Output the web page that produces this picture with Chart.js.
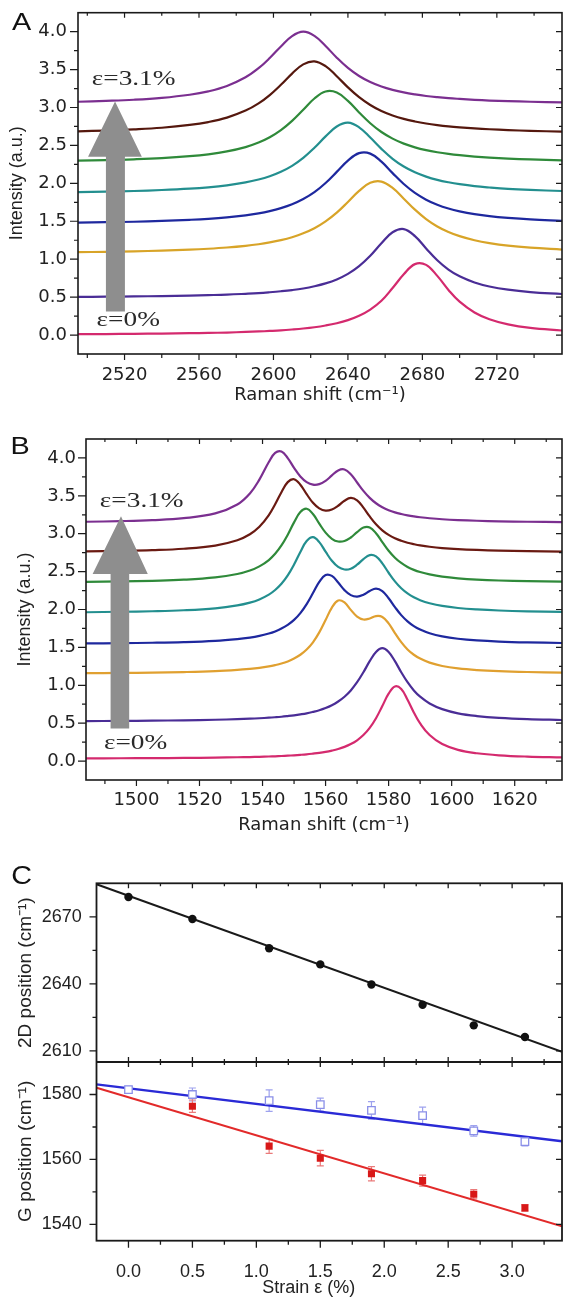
<!DOCTYPE html>
<html>
<head>
<meta charset="utf-8">
<title>Raman spectra of strained graphene</title>
<script src="https://cdn.jsdelivr.net/npm/chart.js@4.4.1/dist/chart.umd.min.js"></script>
<style>
  html, body { margin:0; padding:0; background:#ffffff; }
  #page { position:relative; width:563px; height:1297px; overflow:hidden; background:#ffffff; }
  #page canvas { position:absolute; left:0; }
</style>
</head>
<body>
<div id="page">
  <canvas id="chartA" width="563" height="412" style="top:0px;width:563px;height:412px"></canvas>
  <canvas id="chartB" width="563" height="428" style="top:412px;width:563px;height:428px"></canvas>
  <canvas id="chartC" width="563" height="457" style="top:840px;width:563px;height:457px"></canvas>
</div>
<script>
// ================= DATA =================
// strain levels (%)
const strain = [0, 0.5, 1.1, 1.5, 1.9, 2.3, 2.7, 3.1];

// ---- Panel A : 2D band, fitted spectra (offset intensities) ----
const aShift = [2495,2510,2525,2540,2555,2565,2575,2585,2592,2598,2604,2610,2616,2622,2628,2634,2640,2646,2652,2658,2664,2670,2676,2682,2688,2694,2700,2708,2716,2726,2738,2755];
const aFit00 = [0.011,0.013,0.016,0.019,0.024,0.028,0.033,0.041,0.047,0.054,0.062,0.073,0.086,0.103,0.126,0.156,0.197,0.254,0.336,0.451,0.620,0.800,0.935,0.925,0.780,0.595,0.440,0.298,0.209,0.141,0.095,0.060];
const aFit05 = [0.503,0.506,0.509,0.514,0.520,0.526,0.533,0.544,0.553,0.564,0.577,0.593,0.614,0.643,0.681,0.733,0.806,0.908,1.045,1.210,1.355,1.397,1.304,1.142,0.986,0.863,0.774,0.693,0.640,0.598,0.567,0.541];
const aFit11 = [1.093,1.097,1.104,1.113,1.126,1.138,1.154,1.176,1.197,1.221,1.251,1.290,1.341,1.408,1.498,1.613,1.754,1.900,2.007,2.023,1.939,1.798,1.653,1.529,1.432,1.359,1.304,1.250,1.212,1.178,1.152,1.127];
const aFit15 = [1.483,1.488,1.494,1.504,1.519,1.532,1.551,1.578,1.604,1.634,1.673,1.724,1.793,1.884,2.005,2.151,2.300,2.398,2.392,2.286,2.135,1.991,1.874,1.785,1.718,1.668,1.631,1.594,1.567,1.544,1.524,1.506];
const aFit19 = [1.885,1.891,1.899,1.912,1.930,1.948,1.974,2.012,2.050,2.094,2.153,2.231,2.336,2.469,2.619,2.750,2.800,2.739,2.604,2.455,2.324,2.222,2.146,2.089,2.046,2.014,1.989,1.963,1.945,1.927,1.913,1.899];
const aFit23 = [2.299,2.306,2.317,2.333,2.358,2.383,2.421,2.478,2.538,2.608,2.702,2.824,2.971,3.119,3.211,3.198,3.087,2.935,2.793,2.677,2.590,2.524,2.475,2.438,2.410,2.388,2.371,2.353,2.339,2.326,2.315,2.304];
const aFit27 = [2.686,2.696,2.711,2.733,2.770,2.808,2.867,2.959,3.054,3.164,3.299,3.447,3.569,3.609,3.546,3.413,3.266,3.136,3.033,2.954,2.895,2.850,2.816,2.789,2.768,2.751,2.738,2.724,2.713,2.702,2.692,2.682];
const aFit31 = [3.076,3.087,3.102,3.127,3.168,3.213,3.284,3.398,3.518,3.652,3.805,3.942,4.000,3.945,3.811,3.657,3.522,3.416,3.336,3.277,3.233,3.199,3.173,3.152,3.136,3.123,3.113,3.101,3.092,3.084,3.076,3.068];
const aXTicks = [2520, 2560, 2600, 2640, 2680, 2720];
const aXMinor = [2500, 2540, 2580, 2620, 2660, 2700, 2740];
const abYTicks = [0, 0.5, 1, 1.5, 2, 2.5, 3, 3.5, 4];
const abYMinor = [0.25, 0.75, 1.25, 1.75, 2.25, 2.75, 3.25, 3.75];

// ---- Panel B : G band, fitted spectra ----
const bShift = [1484,1495,1505,1515,1525,1532,1536,1539,1542,1544,1546,1548,1550,1552,1554,1556,1558,1560,1562,1564,1566,1568,1570,1572,1574,1576,1578,1580,1582,1584,1586,1588,1590,1593,1597,1602,1608,1615,1624,1635];
const bFit00 = [0.035,0.037,0.038,0.041,0.045,0.050,0.053,0.056,0.060,0.063,0.067,0.071,0.076,0.082,0.089,0.098,0.108,0.121,0.138,0.159,0.187,0.224,0.274,0.343,0.437,0.565,0.726,0.889,0.985,0.951,0.810,0.642,0.497,0.343,0.224,0.148,0.103,0.076,0.059,0.048];
const bFit05 = [0.528,0.530,0.533,0.538,0.545,0.553,0.559,0.565,0.572,0.578,0.585,0.594,0.604,0.616,0.630,0.649,0.671,0.700,0.737,0.786,0.849,0.932,1.040,1.172,1.318,1.440,1.490,1.440,1.318,1.172,1.040,0.932,0.849,0.760,0.685,0.630,0.594,0.570,0.553,0.542];
const bFit11 = [1.160,1.163,1.167,1.174,1.186,1.202,1.216,1.230,1.249,1.266,1.287,1.315,1.353,1.403,1.472,1.567,1.698,1.861,2.025,2.119,2.093,1.995,1.906,1.868,1.881,1.913,1.902,1.816,1.689,1.569,1.473,1.403,1.352,1.299,1.255,1.223,1.201,1.186,1.175,1.167];
const bFit15 = [1.552,1.556,1.561,1.570,1.587,1.610,1.630,1.652,1.683,1.711,1.748,1.797,1.863,1.953,2.072,2.217,2.364,2.455,2.443,2.355,2.256,2.190,2.170,2.195,2.245,2.276,2.244,2.149,2.032,1.926,1.844,1.781,1.735,1.686,1.645,1.614,1.592,1.577,1.566,1.558];
const bFit19 = [1.964,1.970,1.977,1.990,2.016,2.054,2.091,2.133,2.196,2.257,2.339,2.450,2.594,2.760,2.903,2.954,2.889,2.763,2.643,2.562,2.528,2.539,2.591,2.664,2.718,2.701,2.608,2.485,2.371,2.280,2.212,2.161,2.123,2.083,2.047,2.020,2.001,1.987,1.976,1.968];
const bFit23 = [2.365,2.370,2.379,2.393,2.423,2.468,2.514,2.569,2.653,2.735,2.845,2.987,3.150,3.286,3.330,3.260,3.133,3.014,2.933,2.897,2.904,2.950,3.021,3.082,3.083,3.006,2.890,2.776,2.684,2.614,2.562,2.523,2.494,2.463,2.434,2.412,2.395,2.383,2.374,2.367];
const bFit27 = [2.766,2.773,2.783,2.802,2.844,2.914,2.993,3.091,3.246,3.388,3.548,3.681,3.719,3.647,3.522,3.408,3.334,3.304,3.319,3.369,3.435,3.472,3.440,3.344,3.228,3.125,3.045,2.985,2.940,2.907,2.881,2.862,2.846,2.828,2.811,2.797,2.786,2.777,2.770,2.764];
const bFit31 = [3.158,3.166,3.179,3.205,3.268,3.386,3.532,3.714,3.946,4.066,4.084,3.997,3.869,3.755,3.681,3.647,3.654,3.698,3.769,3.835,3.848,3.785,3.676,3.565,3.473,3.402,3.350,3.311,3.282,3.260,3.242,3.228,3.217,3.204,3.191,3.180,3.171,3.164,3.158,3.153];
const bXTicks = [1500, 1520, 1540, 1560, 1580, 1600, 1620];
const bXMinor = [1490, 1510, 1530, 1550, 1570, 1590, 1610, 1630];

// ---- Panel C : peak positions vs strain ----
const pos2D     = [2678.9, 2669.0, 2655.9, 2648.7, 2639.7, 2630.6, 2621.4, 2616.2];
const posGplus  = [1581.5, 1580.0, 1578.1, 1576.9, 1575.1, 1573.5, 1568.8, 1565.5];
const errGplus  = [1.0, 2.0, 3.3, 2.0, 2.7, 2.6, 1.6, 1.3];
const posGminus = [null, 1576.4, 1564.1, 1560.4, 1555.6, 1553.5, 1549.3, 1545.1];
const errGminus = [0, 1.9, 2.2, 2.4, 2.2, 1.7, 1.4, 1.0];
const fitStrain = [-0.25, 3.39];
const fit2D     = [2684.6, 2609.6];
const fitGplus  = [1583.1, 1565.6];
const fitGminus = [1582.1, 1539.4];
const cXTicks = [0, 0.5, 1, 1.5, 2, 2.5, 3];
const cXMinor = [0.25, 0.75, 1.25, 1.75, 2.25, 2.75, 3.25];
const c2DTicks = [2610, 2640, 2670];
const c2DMinor = [2625, 2655];
const cGTicks = [1540, 1560, 1580];
const cGMinor = [1550, 1570];

// ================= STYLE =================
const aColors = ['#d42a6e', '#4a2d96', '#d8a428', '#1e289e', '#238f8f', '#2f8a3a', '#55180e', '#7b2f90'];
const bColors = ['#d42a6e', '#4a2d96', '#e0a030', '#1e289e', '#238f8f', '#2f8a3a', '#6a1a12', '#7b2f90'];
const ink = '#1a1a1a';
const noGrid = { display: false, drawTicks: false, drawOnChartArea: false };
// keep the plot frames exactly where the layout padding puts them
const fixY = w => s => { s.width = w; s.paddingTop = 0; s.paddingBottom = 0; };
const fixX = h => s => { s.height = h; s.paddingLeft = 0; s.paddingRight = 0; };

// ================= HELPERS =================
function drawStretched(ctx, text, x, y, font, color, sx, align) {
  ctx.save();
  ctx.font = font; ctx.fillStyle = color; ctx.textBaseline = 'middle'; ctx.textAlign = align;
  ctx.translate(x, y); ctx.scale(sx, 1);
  ctx.fillText(text, 0, 0);
  ctx.restore();
}

function makeFrame(spec) {
  return {
    id: 'frameTicks',
    afterDraw(chart) {
      const {ctx, chartArea: ca} = chart;
      const xs = chart.scales.x;
      ctx.save();
      ctx.strokeStyle = ink;
      ctx.lineWidth = spec.lw;
      ctx.strokeRect(ca.left, ca.top, ca.right - ca.left, ca.bottom - ca.top);
      ctx.lineWidth = spec.tw;
      ctx.beginPath();
      const vt = (vals, y, up, down) => vals.forEach(v => {
        const p = xs.getPixelForValue(v); ctx.moveTo(p, y - up); ctx.lineTo(p, y + down);
      });
      vt(spec.xMajor, ca.bottom, 0, spec.bMaj); vt(spec.xMinor, ca.bottom, 0, spec.bMin);
      vt(spec.xMajor, ca.top, 0, spec.tMaj);    vt(spec.xMinor, ca.top, 0, spec.tMin);
      spec.yAxes.forEach(ax => {
        const ys = chart.scales[ax.id];
        const ht = (vals, x, l, r) => vals.forEach(v => {
          const p = ys.getPixelForValue(v); ctx.moveTo(x - l, p); ctx.lineTo(x + r, p);
        });
        ht(ax.major, ca.left, spec.lMaj, 0);  ht(ax.minor, ca.left, spec.lMin, 0);
        ht(ax.major, ca.right, spec.rMaj, 0); ht(ax.minor, ca.right, spec.rMin, 0);
        if (ax.midline) {
          vt(spec.xMajor, ys.bottom, spec.mMaj, spec.mMaj);
          vt(spec.xMinor, ys.bottom, spec.mMin, spec.mMin);
        }
      });
      ctx.stroke();
      spec.yAxes.forEach(ax => {
        if (ax.midline) {
          const ys = chart.scales[ax.id];
          ctx.lineWidth = spec.lw; ctx.beginPath();
          ctx.moveTo(ca.left, ys.bottom); ctx.lineTo(ca.right, ys.bottom); ctx.stroke();
        }
      });
      ctx.restore();
    }
  };
}

function makeNotes(n) {
  return {
    id: 'notes',
    afterDatasetsDraw(chart) {
      const {ctx} = chart;
      const X = v => chart.scales.x.getPixelForValue(v);
      const Y = v => chart.scales.y.getPixelForValue(v);
      const a = n.arrow;
      ctx.save();
      ctx.fillStyle = '#8e8e8e';
      ctx.beginPath();
      ctx.moveTo(X(a.tipX), Y(a.tipY));
      ctx.lineTo(X(a.headRight), Y(a.headY));
      ctx.lineTo(X(a.shaftRight), Y(a.headY));
      ctx.lineTo(X(a.shaftRight), Y(a.tailY));
      ctx.lineTo(X(a.shaftLeft), Y(a.tailY));
      ctx.lineTo(X(a.shaftLeft), Y(a.headY));
      ctx.lineTo(X(a.headLeft), Y(a.headY));
      ctx.closePath();
      ctx.fill();
      ctx.restore();
      n.labels.forEach(t => drawStretched(ctx, t.text, X(t.x), Y(t.y), "21px 'Liberation Serif'", '#2a2a2a', 1.3, 'left'));
    },
    afterDraw(chart) {
      drawStretched(chart.ctx, n.panel.text, n.panel.px, n.panel.py, "24px 'Liberation Sans'", '#111111', 1.2, 'center');
    }
  };
}

function spectrumChart(id, xs, fits, colors, g) {
  return new Chart(document.getElementById(id), {
    type: 'line',
    data: {
      datasets: fits.map((f, i) => ({
        label: 'ε=' + strain[i] + '%',
        data: xs.map((x, j) => ({x: x, y: f[j]})),
        borderColor: colors[i],
        borderWidth: 2.2,
        pointRadius: 0,
        fill: false,
        tension: 0.4
      }))
    },
    options: {
      responsive: false, animation: false, devicePixelRatio: 1,
      layout: { autoPadding: false, padding: { top: g.top, right: 1, bottom: 0, left: 0 } },
      plugins: { legend: { display: false }, tooltip: { enabled: false } },
      scales: {
        x: {
          type: 'linear', position: 'bottom', min: g.xMin, max: g.xMax,
          grid: noGrid, border: { display: false },
          afterBuildTicks: s => { s.ticks = g.xTicks.map(v => ({value: v})); },
          afterFit: fixX(g.xHeight),
          ticks: { padding: g.xPad, autoSkip: false, maxRotation: 0, color: '#222222',
                   font: { family: 'DejaVu Sans', size: 18 }, callback: v => String(v) },
          title: { display: true, text: 'Raman shift (cm⁻¹)', color: '#222222',
                   font: { family: 'DejaVu Sans', size: 18 }, padding: { top: 0, bottom: g.xTitlePad } }
        },
        y: {
          type: 'linear', position: 'left', min: -0.25, max: 4.25,
          grid: noGrid, border: { display: false },
          afterBuildTicks: s => { s.ticks = abYTicks.map(v => ({value: v})); },
          afterFit: fixY(g.yWidth),
          ticks: { padding: g.yPad, color: '#222222', font: { family: 'DejaVu Sans', size: 18 },
                   callback: v => Number(v).toFixed(1) },
          title: { display: true, text: 'Intensity (a.u.)', color: '#222222',
                   font: { family: 'Liberation Sans', size: 18 }, padding: { top: g.yTitlePad, bottom: 0 } }
        }
      }
    },
    plugins: [
      makeFrame({ lw: 1.6, tw: 1.2, xMajor: g.xTicks, xMinor: g.xMinor,
                  yAxes: [{ id: 'y', major: abYTicks, minor: abYMinor }],
                  bMaj: 6, bMin: 4, tMaj: 5, tMin: 3, lMaj: 8, lMin: 4, rMaj: 6, rMin: 3 }),
      makeNotes(g.notes)
    ]
  });
}

// ================= PANEL A =================
spectrumChart('chartA', aShift, [aFit00, aFit05, aFit11, aFit15, aFit19, aFit23, aFit27, aFit31], aColors, {
  top: 12.7, xMin: 2495, xMax: 2755, xTicks: aXTicks, xMinor: aXMinor,
  xHeight: 58, xPad: 10.2, xTitlePad: 6, yWidth: 78, yPad: 11, yTitlePad: 6,
  notes: {
    arrow: { tipX: 2514.9, tipY: 3.08, headY: 2.35, headLeft: 2500.4, headRight: 2529.3,
             shaftLeft: 2510.0, shaftRight: 2520.2, tailY: 0.31 },
    labels: [ { text: 'ε=3.1%', x: 2502.4, y: 3.37 }, { text: 'ε=0%', x: 2505.0, y: 0.19 } ],
    panel: { text: 'A', px: 21.7, py: 23.3 }
  }
});

// ================= PANEL B =================
spectrumChart('chartB', bShift, [bFit00, bFit05, bFit11, bFit15, bFit19, bFit23, bFit27, bFit31], bColors, {
  top: 27, xMin: 1484, xMax: 1635, xTicks: bXTicks, xMinor: bXMinor,
  xHeight: 60, xPad: 9.2, xTitlePad: 4, yWidth: 86, yPad: 10, yTitlePad: 14,
  notes: {
    arrow: { tipX: 1495.1, tipY: 3.23, headY: 2.47, headLeft: 1486.1, headRight: 1503.6,
             shaftLeft: 1491.8, shaftRight: 1497.7, tailY: 0.43 },
    labels: [ { text: 'ε=3.1%', x: 1488.4, y: 3.43 }, { text: 'ε=0%', x: 1489.7, y: 0.23 } ],
    panel: { text: 'B', px: 20, py: 35.8 }
  }
});

// ================= PANEL C =================
const errorBars = {
  id: 'errorBars',
  beforeDatasetsDraw(chart) {
    const {ctx} = chart;
    const X = v => chart.scales.x.getPixelForValue(v);
    const Y = v => chart.scales.yg.getPixelForValue(v);
    const draw = (pos, err, color) => {
      ctx.save(); ctx.strokeStyle = color; ctx.lineWidth = 1.2; ctx.beginPath();
      strain.forEach((s, i) => {
        if (pos[i] === null || !err[i]) return;
        const x = X(s), y1 = Y(pos[i] - err[i]), y2 = Y(pos[i] + err[i]);
        ctx.moveTo(x, y1); ctx.lineTo(x, y2);
        ctx.moveTo(x - 3.5, y1); ctx.lineTo(x + 3.5, y1);
        ctx.moveTo(x - 3.5, y2); ctx.lineTo(x + 3.5, y2);
      });
      ctx.stroke(); ctx.restore();
    };
    draw(posGplus, errGplus, '#9ea2ee');
    draw(posGminus, errGminus, '#ea7a7a');
  }
};
const notesC = {
  id: 'notesC',
  afterDraw(chart) {
    const {ctx} = chart;
    drawStretched(ctx, 'C', 21.7, 37.5, "25px 'Liberation Sans'", '#111111', 1.15, 'center');
    drawStretched(ctx, 'Strain ε (%)', 308.7, 448, "18px 'Liberation Sans'", '#222222', 1, 'center');
  }
};
const pts = (xs, ys) => xs.map((x, i) => ({x: x, y: ys[i]})).filter(p => p.y !== null);

new Chart(document.getElementById('chartC'), {
  type: 'scatter',
  data: {
    datasets: [
      { label: '2D position', data: pts(strain, pos2D), yAxisID: 'y2d', pointStyle: 'circle', pointRadius: 4.2,
        backgroundColor: '#111111', borderColor: '#111111', borderWidth: 0, order: 0 },
      { label: 'G+ position', data: pts(strain, posGplus), yAxisID: 'yg', pointStyle: 'rect', pointRadius: 5.3,
        backgroundColor: '#ffffff', borderColor: '#8a8fe8', borderWidth: 1.3, order: 0 },
      { label: 'G− position', data: pts(strain, posGminus), yAxisID: 'yg', pointStyle: 'rect', pointRadius: 5,
        backgroundColor: '#d81818', borderColor: '#d81818', borderWidth: 0, order: 0 },
      { type: 'line', label: '2D fit', data: pts(fitStrain, fit2D), yAxisID: 'y2d', borderColor: '#1a1a1a',
        borderWidth: 2, pointRadius: 0, order: 1 },
      { type: 'line', label: 'G+ fit', data: pts(fitStrain, fitGplus), yAxisID: 'yg', borderColor: '#2a2ad6',
        borderWidth: 2.4, pointRadius: 0, order: 1 },
      { type: 'line', label: 'G− fit', data: pts(fitStrain, fitGminus), yAxisID: 'yg', borderColor: '#e22a2a',
        borderWidth: 2, pointRadius: 0, order: 1 }
    ]
  },
  options: {
    responsive: false, animation: false, devicePixelRatio: 1,
    layout: { autoPadding: false, padding: { top: 43.3, right: 1, bottom: 0, left: 0 } },
    plugins: { legend: { display: false }, tooltip: { enabled: false } },
    scales: {
      x: {
        type: 'linear', position: 'bottom', min: -0.25, max: 3.39,
        grid: noGrid, border: { display: false },
        afterBuildTicks: s => { s.ticks = cXTicks.map(v => ({value: v})); },
        afterFit: fixX(56.3),
        ticks: { padding: 20.2, autoSkip: false, maxRotation: 0, color: '#222222',
                 font: { family: 'Liberation Sans', size: 18 }, callback: v => Number(v).toFixed(1) }
      },
      yg: {
        type: 'linear', position: 'left', stack: 'c', stackWeight: 1, min: 1535, max: 1590,
        grid: noGrid, border: { display: false },
        afterBuildTicks: s => { s.ticks = cGTicks.map(v => ({value: v})); },
        afterFit: fixY(96.5),
        ticks: { padding: 14.8, color: '#222222', font: { family: 'Liberation Sans', size: 18 },
                 callback: v => String(v) },
        title: { display: true, text: 'G position (cm⁻¹)', color: '#222222',
                 font: { family: 'Liberation Sans', size: 19 }, padding: { top: 14, bottom: 0 } }
      },
      y2d: {
        type: 'linear', position: 'left', stack: 'c', stackWeight: 1, min: 2605, max: 2685,
        grid: noGrid, border: { display: false },
        afterBuildTicks: s => { s.ticks = c2DTicks.map(v => ({value: v})); },
        afterFit: fixY(96.5),
        ticks: { padding: 14.8, color: '#222222', font: { family: 'Liberation Sans', size: 18 },
                 callback: v => String(v) },
        title: { display: true, text: '2D position (cm⁻¹)', color: '#222222',
                 font: { family: 'Liberation Sans', size: 19 }, padding: { top: 14, bottom: 0 } }
      }
    }
  },
  plugins: [
    makeFrame({ lw: 1.8, tw: 1.3, xMajor: cXTicks, xMinor: cXMinor,
                yAxes: [{ id: 'y2d', major: c2DTicks, minor: c2DMinor, midline: true },
                        { id: 'yg', major: cGTicks, minor: cGMinor }],
                bMaj: 7, bMin: 4, tMaj: 5, tMin: 3, lMaj: 7, lMin: 4, rMaj: 6, rMin: 4, mMaj: 5, mMin: 3 }),
    errorBars, notesC
  ]
});
</script>
</body>
</html>
